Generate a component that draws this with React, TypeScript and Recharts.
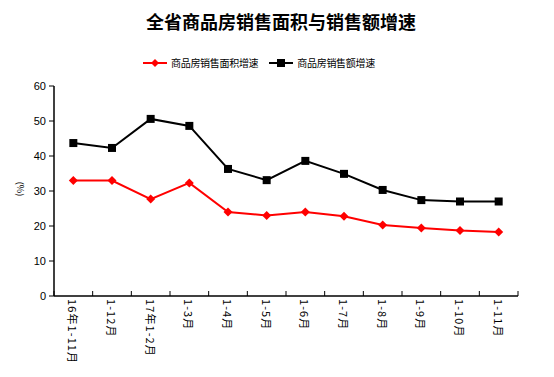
import React from 'react';
import { LineChart, Line, XAxis, YAxis } from 'recharts';

const categories = ['16年1-11月', '1-12月', '17年1-2月', '1-3月', '1-4月', '1-5月', '1-6月', '1-7月', '1-8月', '1-9月', '1-10月', '1-11月'];
const areaGrowth = [33.0, 33.0, 27.7, 32.3, 24.0, 23.0, 24.0, 22.8, 20.3, 19.4, 18.7, 18.3];
const salesGrowth = [43.7, 42.3, 50.6, 48.6, 36.3, 33.1, 38.6, 34.9, 30.3, 27.4, 27.0, 27.0];
const yTicks = [0, 10, 20, 30, 40, 50, 60];
const seriesNames = ['商品房销售面积增速', '商品房销售额增速'];

const data = categories.map((c, i) => ({ x: i + 0.5, name: c, area: areaGrowth[i], sales: salesGrowth[i] }));
const xTicks: number[] = [];
for (let i = 0; i <= categories.length * 2; i++) xTicks.push(i / 2);

const XTick = (props: any) => {
  const { x, y, payload } = props;
  const v = payload.value;
  if (Number.isInteger(v)) {
    return <line x1={x} x2={x} y1={y} y2={y - 5} stroke="#000" strokeWidth={1} />;
  }
  const label = categories[Math.floor(v)];
  return (
    <text x={x} y={y + 3} transform={`rotate(90 ${x} ${y + 3})`} textAnchor="start" dominantBaseline="central"
      fontSize={11} letterSpacing={1.1} fontFamily="'Noto Sans CJK SC', sans-serif" fill="#000">{label}</text>
  );
};

const Diamond = (props: any) => {
  const { cx, cy } = props;
  if (cx == null || cy == null) return null;
  return <polygon points={`${cx},${cy - 4.5} ${cx + 4.5},${cy} ${cx},${cy + 4.5} ${cx - 4.5},${cy}`} fill="#FF0000" />;
};
const Square = (props: any) => {
  const { cx, cy } = props;
  if (cx == null || cy == null) return null;
  return <rect x={cx - 4} y={cy - 4} width={8} height={8} fill="#000" />;
};

const YLabel = (props: any) => {
  const vb = props.viewBox || {};
  const cx = 20;
  const cy = vb.y + vb.height / 2 - 2;
  return (
    <text x={cx} y={cy} transform={`rotate(90 ${cx} ${cy})`} textAnchor="middle" dominantBaseline="central"
      fontSize={9} fontFamily="'Noto Sans CJK SC', sans-serif" fill="#000">(%)</text>
  );
};

const LegendBox = () => (
  <div style={{ position: 'absolute', top: 56, left: 143, display: 'flex', alignItems: 'center', fontFamily: "'Noto Sans CJK SC', sans-serif", fontSize: 10, lineHeight: '14px', color: '#000' }}>
    <svg width={24} height={10} style={{ marginRight: 4 }}>
      <line x1={0} x2={24} y1={5} y2={5} stroke="#FF0000" strokeWidth={2} />
      <polygon points="12,1 16,5 12,9 8,5" fill="#FF0000" />
    </svg>
    <span style={{ marginRight: 11, letterSpacing: -0.3 }}>{seriesNames[0]}</span>
    <svg width={24} height={10} style={{ marginRight: 4 }}>
      <line x1={0} x2={24} y1={5} y2={5} stroke="#000" strokeWidth={2} />
      <rect x={8} y={1} width={8} height={8} fill="#000" />
    </svg>
    <span style={{ letterSpacing: -0.3 }}>{seriesNames[1]}</span>
  </div>
);

export default function App() {
  return (
    <div style={{ position: 'absolute', left: 0, top: 0, width: 554, height: 377, background: '#fff' }}>
      <div style={{ position: 'absolute', left: 0, top: 10, width: 562, textAlign: 'center', fontFamily: "'Noto Sans CJK SC', sans-serif", fontWeight: 'bold', fontSize: 18, lineHeight: '22px', color: '#000' }}>
        全省商品房销售面积与销售额增速
      </div>
      <LegendBox />
      <LineChart width={554} height={377} data={data} margin={{ top: 86, right: 36, left: 0, bottom: 0 }}>
        <XAxis dataKey="x" type="number" domain={[0, 12]} ticks={xTicks} interval={0} tick={<XTick />}
          tickLine={false} tickSize={0} tickMargin={0} height={81} axisLine={{ stroke: '#000', strokeWidth: 1.5 }} />
        <YAxis domain={[0, 60]} ticks={yTicks} interval={0} width={54} tickSize={5} tickMargin={3}
          axisLine={{ stroke: '#000', strokeWidth: 1.5 }} tickLine={{ stroke: '#000' }}
          tick={{ fill: '#000', fontSize: 11, fontFamily: "'Liberation Sans', Arial, sans-serif" }}
          label={<YLabel />} />
        <Line dataKey="area" name={seriesNames[0]} stroke="#FF0000" strokeWidth={2} dot={<Diamond />} activeDot={false} isAnimationActive={false} />
        <Line dataKey="sales" name={seriesNames[1]} stroke="#000" strokeWidth={2} dot={<Square />} activeDot={false} isAnimationActive={false} />
      </LineChart>
    </div>
  );
}
